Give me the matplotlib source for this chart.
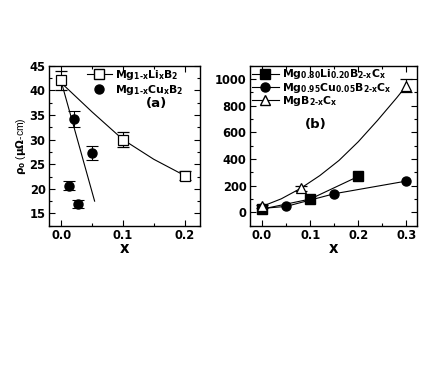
import matplotlib
matplotlib.use('Agg')
import matplotlib.pyplot as plt
from matplotlib.ticker import MultipleLocator, FormatStrFormatter

plt.rcParams['font.family'] = ['DejaVu Sans']
plt.rcParams['font.weight'] = 'bold'
plt.rcParams['mathtext.fontset'] = 'custom'
plt.rcParams['mathtext.rm'] = 'DejaVu Sans:bold'
plt.rcParams['mathtext.it'] = 'DejaVu Sans:bold'
plt.rcParams['mathtext.bf'] = 'DejaVu Sans:bold'

# (a) Mg1-xLixB2 / Mg1-xCuxB2
li_x = [0.0, 0.1, 0.2]
li_rho = [42.0, 30.0, 22.7]
li_err = [2.0, 1.5, 1.0]
li_curve_x = [0.0, 0.05, 0.1, 0.15, 0.2]
li_curve_y = [41.5, 35.6, 30.0, 26.0, 22.7]

cu_x = [0.012, 0.02, 0.027, 0.05]
cu_rho = [20.6, 34.2, 17.0, 27.2]
cu_err = [0.9, 1.7, 0.8, 1.4]
cu_fit_x = [0.0, 0.054]
cu_fit_y = [41.7, 17.5]

# (b) carbon doped
lic_x = [0.0, 0.1, 0.2]
lic_rho = [25, 100, 270]
cuc_x = [0.0, 0.05, 0.15, 0.3]
cuc_rho = [30, 45, 140, 235]
c_x = [0.0, 0.08, 0.3]
c_rho = [45, 180, 950]
c_err = [10, 20, 50]
c_curve_x = [0.0, 0.04, 0.08, 0.12, 0.16, 0.2, 0.24, 0.28, 0.3]
c_curve_y = [45, 102, 180, 276, 390, 530, 690, 860, 950]

fig = plt.figure(figsize=(4.36, 3.82), dpi=100)
ax = fig.add_axes([0.1124, 0.409, 0.3463, 0.419])
ax1 = fig.add_axes([0.5734, 0.409, 0.383, 0.419])

lw = 0.8
ax.plot(li_curve_x, li_curve_y, 'k-', lw=lw)
ax.plot(cu_fit_x, cu_fit_y, 'k-', lw=lw)
ax.errorbar(li_x, li_rho, yerr=li_err, fmt='s', mfc='white', mec='k', ms=6.5,
            ecolor='k', elinewidth=lw, capsize=4, capthick=lw, mew=0.9)
ax.errorbar(cu_x, cu_rho, yerr=cu_err, fmt='o', mfc='k', mec='k', ms=6.5,
            ecolor='k', elinewidth=lw, capsize=4, capthick=lw)
h1, = ax.plot([], [], 'k-s', mfc='white', ms=6.5, lw=lw,
              label=r'Mg$_{\text{1-x}}$Li$_x$B$_2$')
h2, = ax.plot([], [], 'ko', ms=6.5, ls='none', label=r'Mg$_{\text{1-x}}$Cu$_x$B$_2$')
ax.legend(handles=[h1, h2], loc='upper left', bbox_to_anchor=(0.25, 0.985),
          frameon=False, fontsize=7.8, handlelength=2.3, borderpad=0,
          borderaxespad=0, labelspacing=0.1, handletextpad=0.3)
ax.text(0.64, 0.74, '(a)', transform=ax.transAxes, fontsize=9.5, fontweight='bold')
ax.set_xlim(-0.02, 0.225)
ax.set_ylim(12.5, 45)
ax.xaxis.set_major_locator(MultipleLocator(0.1))
ax.xaxis.set_minor_locator(MultipleLocator(0.05))
ax.yaxis.set_major_locator(MultipleLocator(5))
ax.yaxis.set_minor_locator(MultipleLocator(2.5))
ax.set_xlabel('x', fontsize=10.5, fontweight='bold', labelpad=-1)
ax.set_ylabel(r'$\rho_0$ ($\mu\Omega$-cm)', fontsize=7.5, fontweight='normal', labelpad=1,
              family='Liberation Sans')

ax1.plot(c_curve_x, c_curve_y, 'k-', lw=lw)
ax1.errorbar(c_x, c_rho, yerr=c_err, fmt='^', mfc='white', mec='k', ms=7,
             ecolor='k', elinewidth=lw, capsize=4, capthick=lw, mew=0.9)
ax1.plot(lic_x, lic_rho, 'k-s', ms=6.5, lw=lw)
ax1.plot(cuc_x, cuc_rho, 'k-o', ms=6.5, lw=lw)
g1, = ax1.plot([], [], 'k-s', ms=6.5, lw=lw, label=r'Mg$_{0.80}$Li$_{0.20}$B$_{\text{2-x}}$C$_x$')
g2, = ax1.plot([], [], 'k-o', ms=6.5, lw=lw, label=r'Mg$_{0.95}$Cu$_{0.05}$B$_{\text{2-x}}$C$_x$')
g3, = ax1.plot([], [], 'k-^', mfc='white', ms=7, lw=lw, label=r'MgB$_{\text{2-x}}$C$_x$')
ax1.legend(handles=[g1, g2, g3], loc='upper left', bbox_to_anchor=(0.01, 0.99),
           frameon=False, fontsize=7.8, handlelength=2.5, borderpad=0,
           borderaxespad=0, labelspacing=-0.05, handletextpad=0.3)
ax1.text(0.33, 0.61, '(b)', transform=ax1.transAxes, fontsize=9.5, fontweight='bold')
ax1.set_xlim(-0.025, 0.322)
ax1.set_ylim(-100, 1100)
ax1.xaxis.set_major_locator(MultipleLocator(0.1))
ax1.xaxis.set_minor_locator(MultipleLocator(0.05))
ax1.yaxis.set_major_locator(MultipleLocator(200))
ax1.yaxis.set_minor_locator(MultipleLocator(100))
ax1.set_xlabel('x', fontsize=10.5, fontweight='bold', labelpad=-1)

for a in (ax, ax1):
    a.tick_params(which='both', direction='in', top=True, right=True,
                  labelsize=8.3, width=0.8, pad=2.5)
    a.tick_params(which='major', length=4)
    a.tick_params(which='minor', length=2)
    a.xaxis.set_major_formatter(FormatStrFormatter('%.1f'))
    for s in a.spines.values():
        s.set_linewidth(1.0)

plt.savefig('out.png', dpi=100)
